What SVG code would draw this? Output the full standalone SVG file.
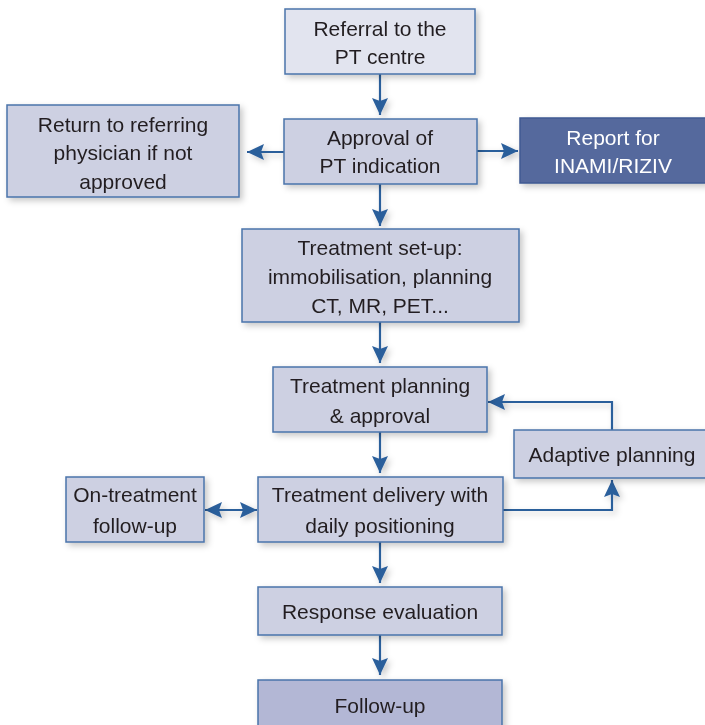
<svg xmlns="http://www.w3.org/2000/svg" width="705" height="725" viewBox="0 0 705 725">
  <style>
    .box { fill: #cdd0e2; stroke: #4a74ab; stroke-width: 1.5; }
    .light { fill: #e2e4ef; }
    .dark { fill: #b3b7d5; }
    .report { fill: #55699d; stroke: #3f5a93; }
    .lbl { font-family: "Liberation Sans", Arial, sans-serif; font-size: 21px; fill: #231f20; text-anchor: middle; }
    .wt { fill: #ffffff; }
    .edge { fill: none; stroke: #2b5e9b; stroke-width: 2.2; }
  </style>
  <defs>
    <filter id="soft" x="-20%" y="-20%" width="140%" height="150%">
      <feDropShadow dx="3" dy="3" stdDeviation="3" flood-color="#000000" flood-opacity="0.22"/>
    </filter>
    <marker id="head" markerUnits="userSpaceOnUse" markerWidth="18" markerHeight="16" refX="17" refY="8" orient="auto-start-reverse">
      <path d="M0,0 L17,8 L0,16 L3,8 Z" fill="#2b5e9b"/>
    </marker>
  </defs>

  <!-- connectors -->
  <g id="connectors" filter="url(#soft)">
    <line class="edge" x1="380" y1="74" x2="380" y2="115" marker-end="url(#head)"/>
    <line class="edge" x1="284" y1="152" x2="247" y2="152" marker-end="url(#head)"/>
    <line class="edge" x1="477" y1="151" x2="518" y2="151" marker-end="url(#head)"/>
    <line class="edge" x1="380" y1="184" x2="380" y2="226" marker-end="url(#head)"/>
    <line class="edge" x1="380" y1="322" x2="380" y2="363" marker-end="url(#head)"/>
    <line class="edge" x1="380" y1="432" x2="380" y2="473" marker-end="url(#head)"/>
    <polyline class="edge" points="612,430 612,402 488,402" marker-end="url(#head)"/>
    <polyline class="edge" points="503,510 612,510 612,480" marker-end="url(#head)"/>
    <line class="edge" x1="205" y1="510" x2="257" y2="510" marker-start="url(#head)" marker-end="url(#head)"/>
    <line class="edge" x1="380" y1="542" x2="380" y2="583" marker-end="url(#head)"/>
    <line class="edge" x1="380" y1="635" x2="380" y2="675" marker-end="url(#head)"/>
  </g>

  <g id="referral" filter="url(#soft)">
    <rect class="box light" x="285" y="9" width="190" height="65"/>
    <text class="lbl" x="380" y="36">Referral to the</text>
    <text class="lbl" x="380" y="64">PT centre</text>
  </g>

  <g id="approval" filter="url(#soft)">
    <rect class="box" x="284" y="119" width="193" height="65"/>
    <text class="lbl" x="380" y="145">Approval of</text>
    <text class="lbl" x="380" y="173">PT indication</text>
  </g>

  <g id="return" filter="url(#soft)">
    <rect class="box" x="7" y="105" width="232" height="92"/>
    <text class="lbl" x="123" y="132">Return to referring</text>
    <text class="lbl" x="123" y="160">physician if not</text>
    <text class="lbl" x="123" y="189">approved</text>
  </g>

  <g id="report" filter="url(#soft)">
    <rect class="box report" x="520" y="118" width="186" height="65"/>
    <text class="lbl wt" x="613" y="145">Report for</text>
    <text class="lbl wt" x="613" y="173">INAMI/RIZIV</text>
  </g>

  <g id="setup" filter="url(#soft)">
    <rect class="box" x="242" y="229" width="277" height="93"/>
    <text class="lbl" x="380" y="255">Treatment set-up:</text>
    <text class="lbl" x="380" y="284">immobilisation, planning</text>
    <text class="lbl" x="380" y="313">CT, MR, PET...</text>
  </g>

  <g id="planning" filter="url(#soft)">
    <rect class="box" x="273" y="367" width="214" height="65"/>
    <text class="lbl" x="380" y="393">Treatment planning</text>
    <text class="lbl" x="380" y="423">&amp; approval</text>
  </g>

  <g id="adaptive" filter="url(#soft)">
    <rect class="box" x="514" y="430" width="192" height="48"/>
    <text class="lbl" x="612" y="462">Adaptive planning</text>
  </g>

  <g id="ontreatment" filter="url(#soft)">
    <rect class="box" x="66" y="477" width="138" height="65"/>
    <text class="lbl" x="135" y="502">On-treatment</text>
    <text class="lbl" x="135" y="533">follow-up</text>
  </g>

  <g id="delivery" filter="url(#soft)">
    <rect class="box" x="258" y="477" width="245" height="65"/>
    <text class="lbl" x="380" y="502">Treatment delivery with</text>
    <text class="lbl" x="380" y="533">daily positioning</text>
  </g>

  <g id="response" filter="url(#soft)">
    <rect class="box" x="258" y="587" width="244" height="48"/>
    <text class="lbl" x="380" y="619">Response evaluation</text>
  </g>

  <g id="followup" filter="url(#soft)">
    <rect class="box dark" x="258" y="680" width="244" height="50"/>
    <text class="lbl" x="380" y="713">Follow-up</text>
  </g>
</svg>
